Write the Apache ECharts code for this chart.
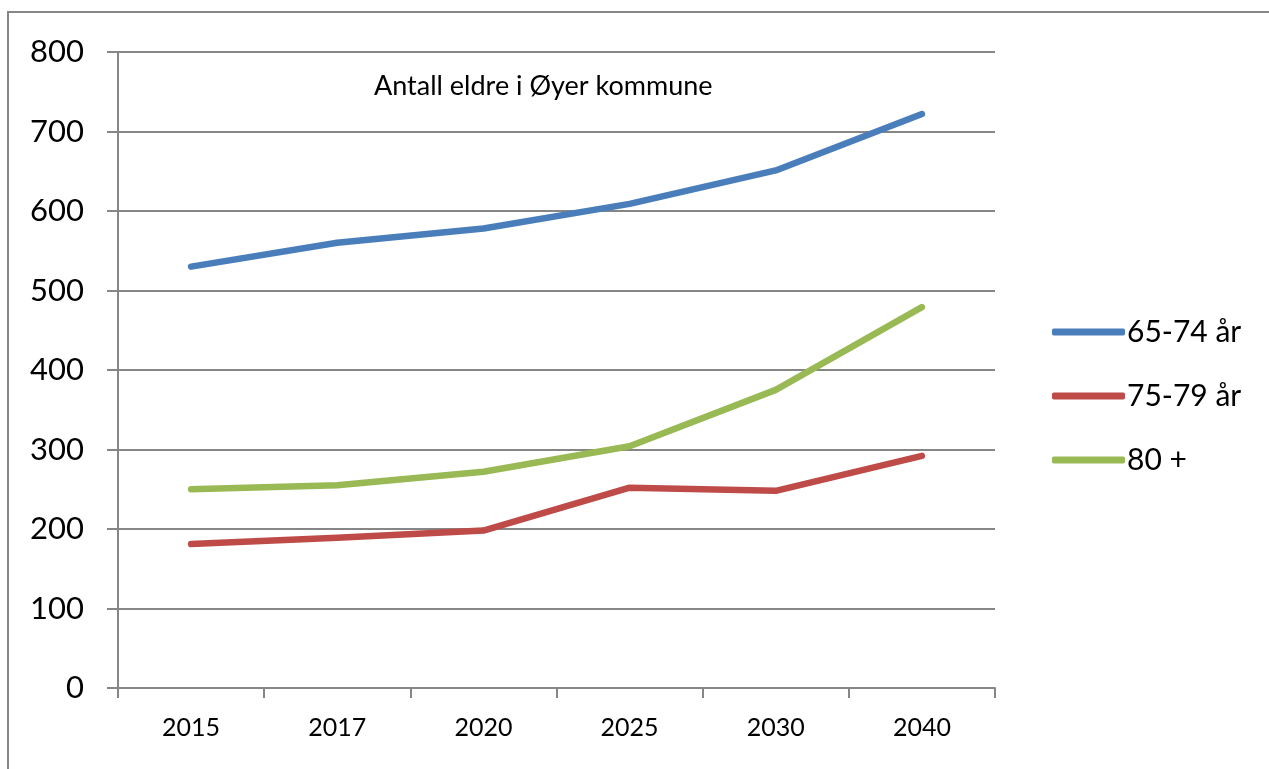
<!DOCTYPE html>
<html>
<head>
<meta charset="utf-8">
<script src="https://cdn.jsdelivr.net/npm/echarts@6/dist/echarts.min.js"></script>
<style>
html,body{margin:0;padding:0;background:#fff;}
#chart{width:1269px;height:769px;}
</style>
</head>
<body>
<div id="chart"></div>
<script>
var years = ['2015', '2017', '2020', '2025', '2030', '2040'];
var seriesNames = ['65-74 år', '75-79 år', '80 +'];
var age6574 = [530, 560, 578, 609, 651, 722];
var age7579 = [181, 189, 198, 252, 248, 292];
var age80 = [250, 255, 272, 304, 375, 479];
var yTicks = [0, 100, 200, 300, 400, 500, 600, 700, 800];
var titleText = 'Antall eldre i Øyer kommune';

var colors = ['#4a7ebb', '#be4b48', '#98b954'];
var FONT = 'Lato';
var gray = '#868686';

var chart = echarts.init(document.getElementById('chart'), null, {renderer: 'canvas'});

function mkSeries(name, data, color) {
  return {
    name: name,
    type: 'line',
    data: data,
    symbol: 'none',
    lineStyle: {width: 6.5, color: color, cap: 'round', join: 'round'},
    itemStyle: {color: color},
    emphasis: {disabled: true},
    animation: false
  };
}

chart.setOption({
  animation: false,
  backgroundColor: '#fff',
  textStyle: {fontFamily: FONT},
  title: {
    text: titleText,
    left: 369,
    top: 68,
    textStyle: {fontFamily: FONT, fontSize: 27, fontWeight: 'normal', color: '#000'}
  },
  graphic: [{
    type: 'rect',
    shape: {x: 8, y: 12, width: 1400, height: 900},
    style: {fill: 'none', stroke: gray, lineWidth: 2},
    silent: true
  }],
  legend: {
    orient: 'vertical',
    left: 1047,
    top: 312,
    itemWidth: 73,
    itemHeight: 7,
    itemGap: 34,
    data: seriesNames.map(function (n) { return {name: n, icon: 'roundRect'}; }),
    textStyle: {fontFamily: FONT, fontSize: 30, color: '#000', lineHeight: 30, padding: [0, 0, 0, -3]},
    selectedMode: false
  },
  grid: {left: 118, right: 274, top: 52, bottom: 81, containLabel: false},
  xAxis: {
    type: 'category',
    data: years,
    boundaryGap: true,
    axisLine: {lineStyle: {color: gray, width: 2}},
    axisTick: {show: true, length: 10, inside: false, lineStyle: {color: gray, width: 2}},
    axisLabel: {fontFamily: FONT, fontSize: 25, color: '#000', margin: 27},
    splitLine: {show: false}
  },
  yAxis: {
    type: 'value',
    min: yTicks[0],
    max: yTicks[yTicks.length - 1],
    interval: 100,
    axisLine: {show: true, lineStyle: {color: gray, width: 2}},
    axisTick: {show: true, length: 11, inside: false, lineStyle: {color: gray, width: 2}},
    axisLabel: {fontFamily: FONT, fontSize: 31, color: '#000', margin: 34},
    splitLine: {show: true, lineStyle: {color: gray, width: 2}}
  },
  series: [
    mkSeries(seriesNames[0], age6574, colors[0]),
    mkSeries(seriesNames[1], age7579, colors[1]),
    mkSeries(seriesNames[2], age80, colors[2])
  ]
});
</script>
</body>
</html>
